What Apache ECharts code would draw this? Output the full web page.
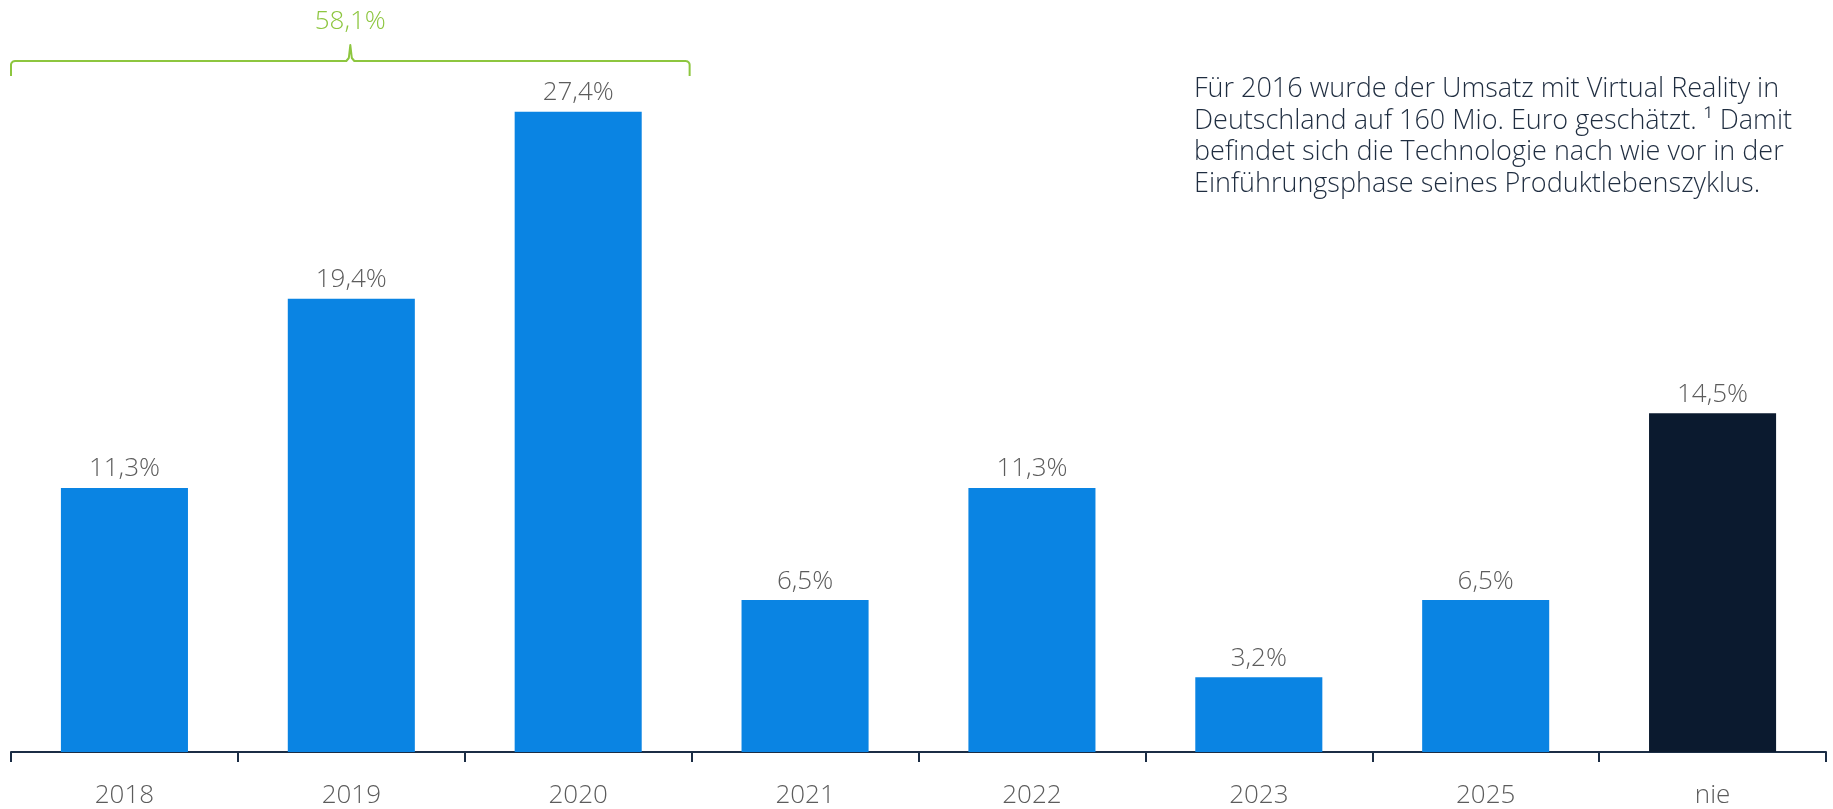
<!DOCTYPE html>
<html>
<head>
<meta charset="utf-8">
<script src="https://cdn.jsdelivr.net/npm/echarts@6/dist/echarts.min.js"></script>
<style>
  html, body { margin: 0; padding: 0; background: #ffffff; }
  #chart { width: 1833px; height: 809px; }
</style>
</head>
<body>
<div id="chart"></div>
<script>
// Zeitpunkt, ab dem Virtual Reality den Massenmarkt erreicht (Anteil der Befragten)
const categories = ['2018', '2019', '2020', '2021', '2022', '2023', '2025', 'nie'];
const shares = [11.3, 19.4, 27.4, 6.5, 11.3, 3.2, 6.5, 14.5];
const highlightIndex = 7;          // "nie" is drawn in dark navy
const bracketRange = [0, 2];       // 2018 – 2020 are summed in the bracket
const noteLines = [
  'Für 2016 wurde der Umsatz mit Virtual Reality in',
  'Deutschland auf 160 Mio. Euro geschätzt. ¹ Damit',
  'befindet sich die Technologie nach wie vor in der',
  'Einführungsphase seines Produktlebenszyklus.'
];

const FONT = '"Open Sans", "Noto Sans", sans-serif';
const BLUE = '#0a84e3';
const NAVY = '#0b1a2f';
const GREEN = '#8dc63f';
const GREY = '#5c5c5c';
const AXIS = '#1b2d45';

const fmt = v => v.toFixed(1).replace('.', ',') + '%';

const chart = echarts.init(document.getElementById('chart'), null, { renderer: 'canvas' });

chart.setOption({
  animation: false,
  backgroundColor: '#ffffff',
  grid: { left: 11, right: 7, top: 51, bottom: 55, containLabel: false },
  xAxis: {
    type: 'category',
    data: categories,
    axisLine: { lineStyle: { color: AXIS, width: 2 } },
    axisTick: { show: true, length: 10, lineStyle: { color: AXIS, width: 2 } },
    axisLabel: { color: GREY, fontFamily: FONT, fontWeight: 300, fontSize: 26, margin: 31 }
  },
  yAxis: {
    type: 'value',
    min: 0,
    max: 30,
    show: false,
    splitLine: { show: false }
  },
  series: [{
    type: 'bar',
    barWidth: '56%',
    data: shares.map((v, i) => ({
      value: v,
      itemStyle: { color: i === highlightIndex ? NAVY : BLUE }
    })),
    label: {
      show: true,
      position: 'top',
      distance: 6,
      color: GREY,
      fontFamily: FONT,
      fontWeight: 300,
      fontSize: 26,
      formatter: p => fmt(p.value)
    }
  }]
});

// Rounded corner points for the bracket polyline
function corner(cx, cy, r, a0, a1, n) {
  const pts = [];
  for (let i = 0; i <= n; i++) {
    const a = a0 + (a1 - a0) * i / n;
    pts.push([cx + r * Math.cos(a), cy + r * Math.sin(a)]);
  }
  return pts;
}

// Bracket over the first three years, positioned from the category axis
function drawOverlay() {
  const c0 = chart.convertToPixel({ xAxisIndex: 0 }, categories[0]);
  const c1 = chart.convertToPixel({ xAxisIndex: 0 }, categories[1]);
  const band = c1 - c0;
  const xs = chart.convertToPixel({ xAxisIndex: 0 }, categories[bracketRange[0]]) - band / 2;
  const xe = chart.convertToPixel({ xAxisIndex: 0 }, categories[bracketRange[1]]) + band / 2 - 2;
  const xm = (xs + xe) / 2;
  const yLine = 61, yEnd = 76, yTip = 45, r = 4;
  const total = shares.slice(bracketRange[0], bracketRange[1] + 1).reduce((a, b) => a + b, 0);

  const pts = [[xs, yEnd]]
    .concat(corner(xs + r, yLine + r, r, Math.PI, Math.PI * 1.5, 6))
    .concat([[xm - 4, yLine], [xm - 1.5, yLine - 3], [xm, yTip], [xm + 1.5, yLine - 3], [xm + 4, yLine]])
    .concat(corner(xe - r, yLine + r, r, -Math.PI / 2, 0, 6))
    .concat([[xe, yEnd]]);

  chart.setOption({
    graphic: [
      {
        type: 'polyline',
        shape: { points: pts },
        style: { fill: null, stroke: GREEN, lineWidth: 2, lineJoin: 'round' },
        silent: true
      },
      {
        type: 'text',
        x: xm,
        y: 9,
        style: {
          text: fmt(total),
          fill: GREEN,
          font: `300 26px ${FONT}`,
          textAlign: 'center',
          textVerticalAlign: 'top'
        },
        silent: true
      },
      {
        type: 'text',
        x: 1194,
        y: 74,
        style: {
          text: noteLines.join('\n'),
          fill: '#1f2d40',
          font: `300 27px ${FONT}`,
          lineHeight: 31.5,
          textAlign: 'left',
          textVerticalAlign: 'top'
        },
        silent: true
      }
    ]
  });
}
drawOverlay();
</script>
</body>
</html>
